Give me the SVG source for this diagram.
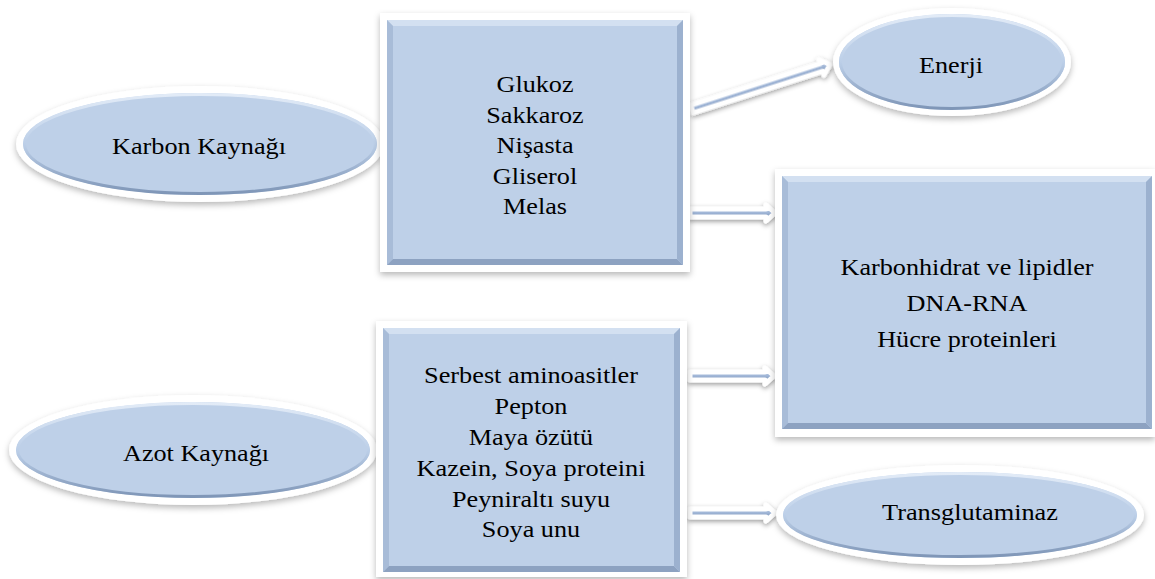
<svg xmlns="http://www.w3.org/2000/svg" width="1155" height="579" viewBox="0 0 1155 579">
  <defs>
    <filter id="sh" x="-10%" y="-20%" width="120%" height="150%">
      <feDropShadow dx="0" dy="3" stdDeviation="3" flood-color="#000" flood-opacity="0.28"/>
    </filter>
    <filter id="ash" x="-20%" y="-150%" width="140%" height="400%">
      <feDropShadow dx="0" dy="2" stdDeviation="2.5" flood-color="#000" flood-opacity="0.4"/>
    </filter>
    <linearGradient id="rim" x1="0" y1="0" x2="0" y2="1">
      <stop offset="0" stop-color="#E2EBF7"/>
      <stop offset="0.5" stop-color="#BCCFE8"/>
      <stop offset="1" stop-color="#7F96B7"/>
    </linearGradient>
    <linearGradient id="arr" x1="0" y1="0" x2="0" y2="1">
      <stop offset="0" stop-color="#C9D8EC"/>
      <stop offset="0.5" stop-color="#9FB5D6"/>
      <stop offset="1" stop-color="#5A7399"/>
    </linearGradient>
    <style>
      .outer { fill: #fff; filter: url(#sh); }
      .fill { fill: #BED0E8; }
      .erim { fill: none; stroke: url(#rim); stroke-width: 3; }
      .bt { fill: #D3E0F1; }
      .bl { fill: #A8BCD8; }
      .bb { fill: #8DA2C1; }
      .br { fill: #9CB1CF; }
      .arrow { fill: url(#arr); stroke: #fff; stroke-width: 5; stroke-linejoin: round; filter: url(#ash); }
    </style>
  </defs>

  <g id="connectors">
    <polygon class="arrow" transform="translate(692,109) rotate(-17.8)" points="0,-4 136,-4 136,-8 145,0 136,8 136,4 0,4"/>
    <polygon class="arrow" transform="translate(690,213)" points="0,-4 76,-4 76,-8 85,0 76,8 76,4 0,4"/>
    <polygon class="arrow" transform="translate(690,376)" points="0,-4 75,-4 75,-8 84,0 75,8 75,4 0,4"/>
    <polygon class="arrow" transform="translate(690,513)" points="0,-4 76,-4 76,-8 85,0 76,8 76,4 0,4"/>
  </g>

  <g font-family="'Liberation Serif', 'Times New Roman', serif" font-size="24" fill="#000" text-anchor="middle">
  <g id="karbon">
    <ellipse class="outer" cx="200" cy="144" rx="184" ry="58"/>
    <ellipse class="fill" cx="200" cy="144" rx="177" ry="51"/>
    <ellipse class="erim" cx="200" cy="144" rx="175.5" ry="49.5"/>
    <text x="199" y="154" textLength="174" lengthAdjust="spacingAndGlyphs">Karbon Kaynağı</text>
  </g>

  <g id="azot">
    <ellipse class="outer" cx="193" cy="450" rx="184" ry="55"/>
    <ellipse class="fill" cx="193" cy="450" rx="177" ry="48"/>
    <ellipse class="erim" cx="193" cy="450" rx="175.5" ry="46.5"/>
    <text x="196" y="461" textLength="146" lengthAdjust="spacingAndGlyphs">Azot Kaynağı</text>
  </g>

  <g id="karbon-list">
    <rect class="outer" x="380" y="13" width="310" height="259"/>
    <rect class="fill" x="387" y="20" width="296" height="245"/>
    <polygon class="bt" points="387,20 683,20 677,26 393,26"/>
    <polygon class="bl" points="387,20 393,26 393,259 387,265"/>
    <polygon class="bb" points="387,265 393,259 677,259 683,265"/>
    <polygon class="br" points="683,20 683,265 677,259 677,26"/>
    <text x="535" y="92" textLength="77" lengthAdjust="spacingAndGlyphs">Glukoz</text>
    <text x="535" y="123" textLength="97.5" lengthAdjust="spacingAndGlyphs">Sakkaroz</text>
    <text x="535" y="153" textLength="77" lengthAdjust="spacingAndGlyphs">Nişasta</text>
    <text x="535" y="184" textLength="84.4" lengthAdjust="spacingAndGlyphs">Gliserol</text>
    <text x="535" y="214" textLength="64" lengthAdjust="spacingAndGlyphs">Melas</text>
  </g>

  <g id="azot-list">
    <rect class="outer" x="376" y="321" width="311" height="256"/>
    <rect class="fill" x="383" y="328" width="297" height="244"/>
    <polygon class="bt" points="383,328 680,328 674,334 389,334"/>
    <polygon class="bl" points="383,328 389,334 389,566 383,572"/>
    <polygon class="bb" points="383,572 389,566 674,566 680,572"/>
    <polygon class="br" points="680,328 680,572 674,566 674,334"/>
    <text x="531" y="383" textLength="214" lengthAdjust="spacingAndGlyphs">Serbest aminoasitler</text>
    <text x="531" y="414" textLength="72.8" lengthAdjust="spacingAndGlyphs">Pepton</text>
    <text x="531" y="445" textLength="124.4" lengthAdjust="spacingAndGlyphs">Maya özütü</text>
    <text x="531" y="476" textLength="229" lengthAdjust="spacingAndGlyphs">Kazein, Soya proteini</text>
    <text x="531" y="507" textLength="158" lengthAdjust="spacingAndGlyphs">Peyniraltı suyu</text>
    <text x="531" y="537" textLength="98.3" lengthAdjust="spacingAndGlyphs">Soya unu</text>
  </g>

  <g id="enerji">
    <ellipse class="outer" cx="952" cy="62" rx="119" ry="54"/>
    <ellipse class="fill" cx="952" cy="62" rx="113" ry="48"/>
    <ellipse class="erim" cx="952" cy="62" rx="111.5" ry="46.5"/>
    <text x="951" y="73" textLength="64" lengthAdjust="spacingAndGlyphs">Enerji</text>
  </g>

  <g id="hucre">
    <rect class="outer" x="775" y="169" width="380" height="268"/>
    <rect class="fill" x="782" y="176" width="370" height="253"/>
    <polygon class="bt" points="782,176 1152,176 1146,182 788,182"/>
    <polygon class="bl" points="782,176 788,182 788,423 782,429"/>
    <polygon class="bb" points="782,429 788,423 1146,423 1152,429"/>
    <polygon class="br" points="1152,176 1152,429 1146,423 1146,182"/>
    <text x="967" y="275" textLength="253" lengthAdjust="spacingAndGlyphs">Karbonhidrat ve lipidler</text>
    <text x="967" y="311" textLength="120.8" lengthAdjust="spacingAndGlyphs">DNA-RNA</text>
    <text x="967" y="347" textLength="179.7" lengthAdjust="spacingAndGlyphs">Hücre proteinleri</text>
  </g>

  <g id="transglutaminaz">
    <ellipse class="outer" cx="960" cy="515" rx="184" ry="50"/>
    <ellipse class="fill" cx="960" cy="515" rx="177" ry="43"/>
    <ellipse class="erim" cx="960" cy="515" rx="175.5" ry="41.5"/>
    <text x="970" y="520" textLength="176" lengthAdjust="spacingAndGlyphs">Transglutaminaz</text>
  </g>
  </g>
</svg>
